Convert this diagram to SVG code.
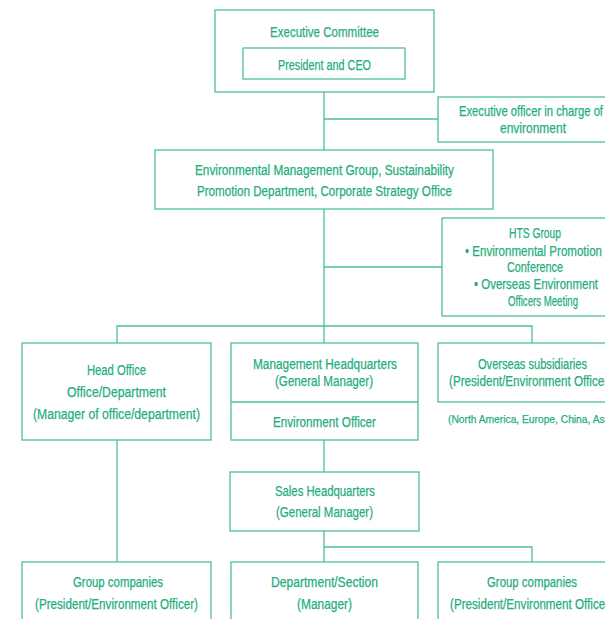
<svg xmlns="http://www.w3.org/2000/svg" width="605" height="619" viewBox="0 0 605 619">
<style>
.b{fill:#fff;stroke:#4dbf98;stroke-width:1.3}
.c{fill:none;stroke:#4dbf98;stroke-width:1.3}
text{font-family:"Liberation Sans",Arial,sans-serif;font-size:14px;fill:#1fae7c;stroke:#1fae7c;stroke-width:0.25}
.s{font-size:11.5px}
</style>
<rect width="605" height="619" fill="#fff"/>
<g id="connectors">
<path class="c" d="M324 92V150M324 119H438M324 209V326M324 267H442M117 343V326H532V343M324 326V343M117 440V562M324 440V472M324 531V562M324 547H532V562"/>
</g>
<g id="exec-committee">
<rect class="b" x="215" y="10" width="219" height="82"/>
<text x="270" y="37" textLength="109" lengthAdjust="spacingAndGlyphs">Executive Committee</text>
<rect class="b" x="243" y="48" width="162" height="31"/>
<text x="278" y="70" textLength="93" lengthAdjust="spacingAndGlyphs">President and CEO</text>
</g>
<g id="exec-officer">
<rect class="b" x="438" y="97" width="180" height="45"/>
<text x="459" y="116" textLength="144" lengthAdjust="spacingAndGlyphs">Executive officer in charge of</text>
<text x="500" y="133" textLength="66" lengthAdjust="spacingAndGlyphs">environment</text>
</g>
<g id="env-mgmt">
<rect class="b" x="155" y="150" width="338" height="59"/>
<text x="195" y="175" textLength="259" lengthAdjust="spacingAndGlyphs">Environmental Management Group, Sustainability</text>
<text x="197" y="196" textLength="255" lengthAdjust="spacingAndGlyphs">Promotion Department, Corporate Strategy Office</text>
</g>
<g id="hts-group">
<rect class="b" x="442" y="218" width="180" height="98"/>
<text x="509" y="238" textLength="52" lengthAdjust="spacingAndGlyphs">HTS Group</text>
<text x="465" y="256" textLength="137" lengthAdjust="spacingAndGlyphs">• Environmental Promotion</text>
<text x="507" y="272" textLength="56" lengthAdjust="spacingAndGlyphs">Conference</text>
<text x="474" y="289" textLength="124" lengthAdjust="spacingAndGlyphs">• Overseas Environment</text>
<text x="508" y="306" textLength="70" lengthAdjust="spacingAndGlyphs">Officers Meeting</text>
</g>
<g id="head-office">
<rect class="b" x="22" y="343" width="189" height="97"/>
<text x="87" y="375" textLength="59" lengthAdjust="spacingAndGlyphs">Head Office</text>
<text x="67" y="397" textLength="99" lengthAdjust="spacingAndGlyphs">Office/Department</text>
<text x="33" y="419" textLength="167" lengthAdjust="spacingAndGlyphs">(Manager of office/department)</text>
</g>
<g id="mgmt-hq">
<rect class="b" x="231" y="343" width="187" height="97"/>
<line class="c" x1="231" y1="402" x2="418" y2="402"/>
<text x="253" y="369" textLength="144" lengthAdjust="spacingAndGlyphs">Management Headquarters</text>
<text x="275" y="386" textLength="98" lengthAdjust="spacingAndGlyphs">(General Manager)</text>
<text x="273" y="427" textLength="103" lengthAdjust="spacingAndGlyphs">Environment Officer</text>
</g>
<g id="overseas">
<rect class="b" x="438" y="343" width="180" height="59"/>
<text x="478" y="369" textLength="109" lengthAdjust="spacingAndGlyphs">Overseas subsidiaries</text>
<text x="449" y="386" textLength="163" lengthAdjust="spacingAndGlyphs">(President/Environment Officer)</text>
<text class="s" x="448" y="423" textLength="168" lengthAdjust="spacingAndGlyphs">(North America, Europe, China, Asia)</text>
</g>
<g id="sales-hq">
<rect class="b" x="230" y="472" width="189" height="59"/>
<text x="275" y="496" textLength="100" lengthAdjust="spacingAndGlyphs">Sales Headquarters</text>
<text x="276" y="517" textLength="97" lengthAdjust="spacingAndGlyphs">(General Manager)</text>
</g>
<g id="group-companies-left">
<rect class="b" x="22" y="562" width="189" height="70"/>
<text x="73" y="587" textLength="90" lengthAdjust="spacingAndGlyphs">Group companies</text>
<text x="35" y="609" textLength="163" lengthAdjust="spacingAndGlyphs">(President/Environment Officer)</text>
</g>
<g id="dept-section">
<rect class="b" x="231" y="562" width="187" height="70"/>
<text x="271" y="587" textLength="107" lengthAdjust="spacingAndGlyphs">Department/Section</text>
<text x="297" y="609" textLength="55" lengthAdjust="spacingAndGlyphs">(Manager)</text>
</g>
<g id="group-companies-right">
<rect class="b" x="438" y="562" width="180" height="70"/>
<text x="487" y="587" textLength="90" lengthAdjust="spacingAndGlyphs">Group companies</text>
<text x="450" y="609" textLength="163" lengthAdjust="spacingAndGlyphs">(President/Environment Officer)</text>
</g>
</svg>
